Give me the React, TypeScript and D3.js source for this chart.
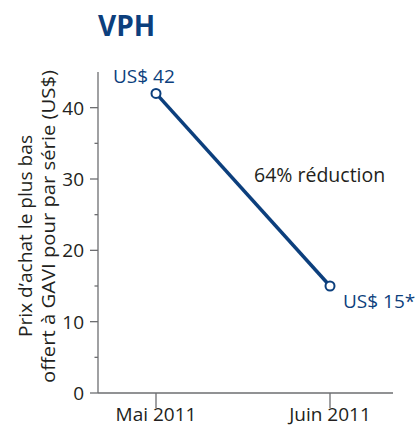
import React from "react";
import * as d3 from "d3";

const categories = ["Mai 2011", "Juin 2011"];
const values = [42, 15];
const pointLabels = ["US$ 42", "US$ 15*"];
const yTicks = [0, 10, 20, 30, 40];
const yMinorTicks = [5, 15, 25, 35];
const title = "VPH";
const annotation = "64% réduction";
const yLabelLines = ["Prix d\u2019achat le plus bas", "offert à GAVI pour par série (US$)"];

const BLUE = "#0c3f7d";
const AXIS = "#6d6e71";
const TEXT = "#231f20";
const FONT = "'Open Sans', sans-serif";

export default function App() {
  const W = 417, H = 426;
  const left = 98, right = 393, top = 72, bottom = 393;
  const y = d3.scaleLinear().domain([0, 45]).range([bottom, top]);
  const x = d3.scalePoint<string>().domain(categories).range([156, 330]);
  const line = d3.line<number>().x((_, i) => x(categories[i])!).y((d) => y(d));

  return (
    <svg width={W} height={H} style={{ position: "absolute", left: 0, top: 0, fontFamily: FONT }}>
      <text x={98} y={36} fill={BLUE} fontSize={28} fontWeight={700}>{title}</text>

      {/* y axis */}
      <line x1={left} x2={left} y1={top} y2={bottom} stroke={AXIS} strokeWidth={1.3} />
      {yTicks.map((t) => (
        <g key={t}>
          <line x1={left - 8} x2={left} y1={y(t)} y2={y(t)} stroke={AXIS} strokeWidth={1.3} />
          <text x={left - 14} y={y(t)} dy="0.36em" textAnchor="end" fontSize={19} fill={TEXT}>{t}</text>
        </g>
      ))}
      {yMinorTicks.map((t) => (
        <line key={t} x1={left - 3.5} x2={left} y1={y(t)} y2={y(t)} stroke={AXIS} strokeWidth={1.3} />
      ))}

      {/* x axis */}
      <line x1={left} x2={right} y1={bottom} y2={bottom} stroke={AXIS} strokeWidth={1.3} />
      {categories.map((c) => (
        <g key={c}>
          <line x1={x(c)!} x2={x(c)!} y1={bottom} y2={bottom + 15} stroke={AXIS} strokeWidth={1.3} />
          <text x={x(c)!} y={421} textAnchor="middle" fontSize={19} fill={TEXT}>{c}</text>
        </g>
      ))}

      {/* y label */}
      <g transform={`translate(32, 236) rotate(-90)`}>
        <text x={0} y={0} textAnchor="middle" fontSize={18.5} fill={TEXT} textLength={202} lengthAdjust="spacingAndGlyphs">{yLabelLines[0]}</text>
      </g>
      <g transform={`translate(55, 226.5) rotate(-90)`}>
        <text x={0} y={0} textAnchor="middle" fontSize={18.5} fill={TEXT} textLength={313} lengthAdjust="spacingAndGlyphs">{yLabelLines[1]}</text>
      </g>

      {/* line */}
      <path d={line(values)!} fill="none" stroke={BLUE} strokeWidth={3.5} />
      {values.map((v, i) => (
        <circle key={i} cx={x(categories[i])!} cy={y(v)} r={4.5} fill="#fff" stroke={BLUE} strokeWidth={2} />
      ))}

      <text x={x(categories[0])! - 43} y={y(values[0]) - 10} fontSize={19} fill={BLUE}>{pointLabels[0]}</text>
      <text x={x(categories[1])! + 13} y={y(values[1]) + 22} fontSize={19} fill={BLUE}>{pointLabels[1]}</text>
      <text x={254} y={182} fontSize={19.5} fill={TEXT}>{annotation}</text>
    </svg>
  );
}
